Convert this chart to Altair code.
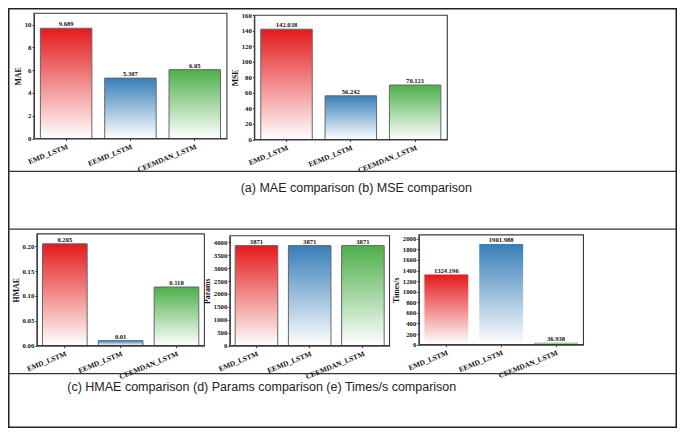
import altair as alt
import pandas as pd

# ---------------- data ----------------
models = ["EMD_LSTM", "EEMD_LSTM", "CEEMDAN_LSTM"]

mae_values = [9.689, 5.307, 6.05]
mae_labels = ["9.689", "5.307", "6.05"]
mse_values = [142.038, 56.242, 70.121]
mse_labels = ["142.038", "56.242", "70.121"]
hmae_values = [0.205, 0.01, 0.118]
hmae_labels = ["0.205", "0.01", "0.118"]
params_values = [3871, 3871, 3871]
params_labels = ["3871", "3871", "3871"]
times_values = [1324.196, 1901.988, 36.938]
times_labels = ["1324.196", "1901.988", "36.938"]

mae_ticks = [0, 2, 4, 6, 8, 10]
mse_ticks = [0, 20, 40, 60, 80, 100, 120, 140, 160]
hmae_ticks = [0.0, 0.05, 0.10, 0.15, 0.20]
params_ticks = [0, 500, 1000, 1500, 2000, 2500, 3000, 3500, 4000]
times_ticks = [0, 200, 400, 600, 800, 1000, 1200, 1400, 1600, 1800, 2000]

captions = [
    "(a) MAE comparison (b) MSE comparison",
    "(c) HMAE comparison (d) Params comparison (e) Times/s comparison",
]

bar_colors = ["#e41a1c", "#377eb8", "#4daf4a"]

# ---------------- layout ----------------
W, H = 669, 420
KX = 668 / 682
KY = 419 / 435


def X(x):
    return round(0.5 + x * KX, 2)


def Y(y):
    return round(0.5 + y * KY, 2)


SERIF = "Liberation Serif"
SANS = "Liberation Sans"
AX = "#3a3a3a"
TXT = "#111111"
one = pd.DataFrame({"k": [0]})


def panel(title, values, labels, ticks, fmt, ymax, box, bar_stroke=True):
    L, R, T, B = box
    df = pd.DataFrame({"model": models, "value": values, "label": labels})
    x_enc = alt.X(
        "model:N",
        sort=models,
        title=None,
        scale=alt.Scale(domain=models, range=[X(L), X(R)],
                        paddingInner=0.2, paddingOuter=0.1),
        axis=alt.Axis(orient="bottom", offset=Y(B) - H, labelAngle=-22,
                      labelAlign="right", labelBaseline="top",
                      labelFont=SERIF, labelFontWeight="bold",
                      labelFontSize=7.4, labelColor=TXT, labelPadding=2,
                      tickSize=2, tickColor=AX, domainColor=AX, grid=False),
    )
    y_enc = alt.Y(
        "value:Q",
        title=title,
        scale=alt.Scale(domain=[0, ymax], range=[Y(B), Y(T)], nice=False,
                        zero=True),
        axis=alt.Axis(orient="left", offset=-X(L), values=ticks, format=fmt,
                      grid=False, labelFont=SERIF, labelFontWeight="bold",
                      labelFontSize=6.8, labelColor=TXT, labelPadding=1,
                      tickSize=2, tickColor=AX, domainColor=AX,
                      titleFont=SERIF, titleFontWeight="bold",
                      titleFontSize=7.8, titleColor=TXT, titlePadding=2),
    )
    base = alt.Chart(df)
    layers = []
    for m, c in zip(models, bar_colors):
        grad = alt.LinearGradient(
            gradient="linear",
            stops=[alt.GradientStop(color=c, offset=0),
                   alt.GradientStop(color="#ffffff", offset=1)],
            x1=0, x2=0, y1=0, y2=1,
        )
        kw = dict(fill=grad)
        if bar_stroke:
            kw.update(stroke="#666666", strokeWidth=1)
        layers.append(
            base.transform_filter(alt.datum.model == m)
            .mark_bar(**kw)
            .encode(x=x_enc, y=y_enc)
        )
    text = base.mark_text(baseline="bottom", dy=-1, font=SERIF,
                          fontWeight="bold", fontSize=6.6, color=TXT).encode(
        x=x_enc, y=y_enc, text="label:N")
    frame = alt.Chart(one).mark_rect(fillOpacity=0, stroke=AX,
                                     strokeWidth=1.1).encode(
        x=alt.value(X(L)), x2=alt.value(X(R)),
        y=alt.value(Y(T)), y2=alt.value(Y(B)))
    return alt.layer(*layers, text, frame)


p_mae = panel("MAE", mae_values, mae_labels, mae_ticks, "d", 11,
              (26, 223, 5, 135))
p_mse = panel("MSE", mse_values, mse_labels, mse_ticks, "d", 160,
              (251, 448, 7, 136))
p_hmae = panel("HMAE", hmae_values, hmae_labels, hmae_ticks, ".2f", 0.225,
               (29, 200, 234, 350))
p_par = panel("Params", params_values, params_labels, params_ticks, "d", 4250,
              (226, 389, 236, 350))
p_time = panel("Times/s", times_values, times_labels, times_ticks, "d", 2075,
               (419, 587, 235, 349), bar_stroke=False)

# table frame and separators
outer = alt.Chart(one).mark_rect(fillOpacity=0, stroke="#222222",
                                 strokeWidth=1.5).encode(
    x=alt.value(0.75), x2=alt.value(W - 0.75),
    y=alt.value(0.75), y2=alt.value(H - 0.75))
seps = [
    alt.Chart(one).mark_rule(color="#333333", strokeWidth=1.2).encode(
        x=alt.value(0), x2=alt.value(W), y=alt.value(Y(yy)))
    for yy in (169, 229, 379)
]

cap_df = pd.DataFrame({"text": captions})
cap1 = alt.Chart(cap_df.iloc[[0]]).mark_text(
    font=SANS, fontSize=12.5, align="left", baseline="alphabetic",
    color="#222222").encode(x=alt.value(X(237)), y=alt.value(Y(190)),
                            text="text:N")
cap2 = alt.Chart(cap_df.iloc[[1]]).mark_text(
    font=SANS, fontSize=12.5, align="left", baseline="alphabetic",
    color="#222222").encode(x=alt.value(X(60)), y=alt.value(Y(397)),
                            text="text:N")

chart = alt.layer(
    p_mae, p_mse, p_hmae, p_par, p_time, outer, *seps, cap1, cap2
).resolve_scale(x="independent", y="independent").resolve_axis(
    x="independent", y="independent"
).properties(
    width=W, height=H, padding=0,
    autosize=alt.AutoSizeParams(type="none"),
    background="white",
).configure_view(strokeWidth=0)

chart.save("out.html", embed_options={"renderer": "svg", "actions": False})
